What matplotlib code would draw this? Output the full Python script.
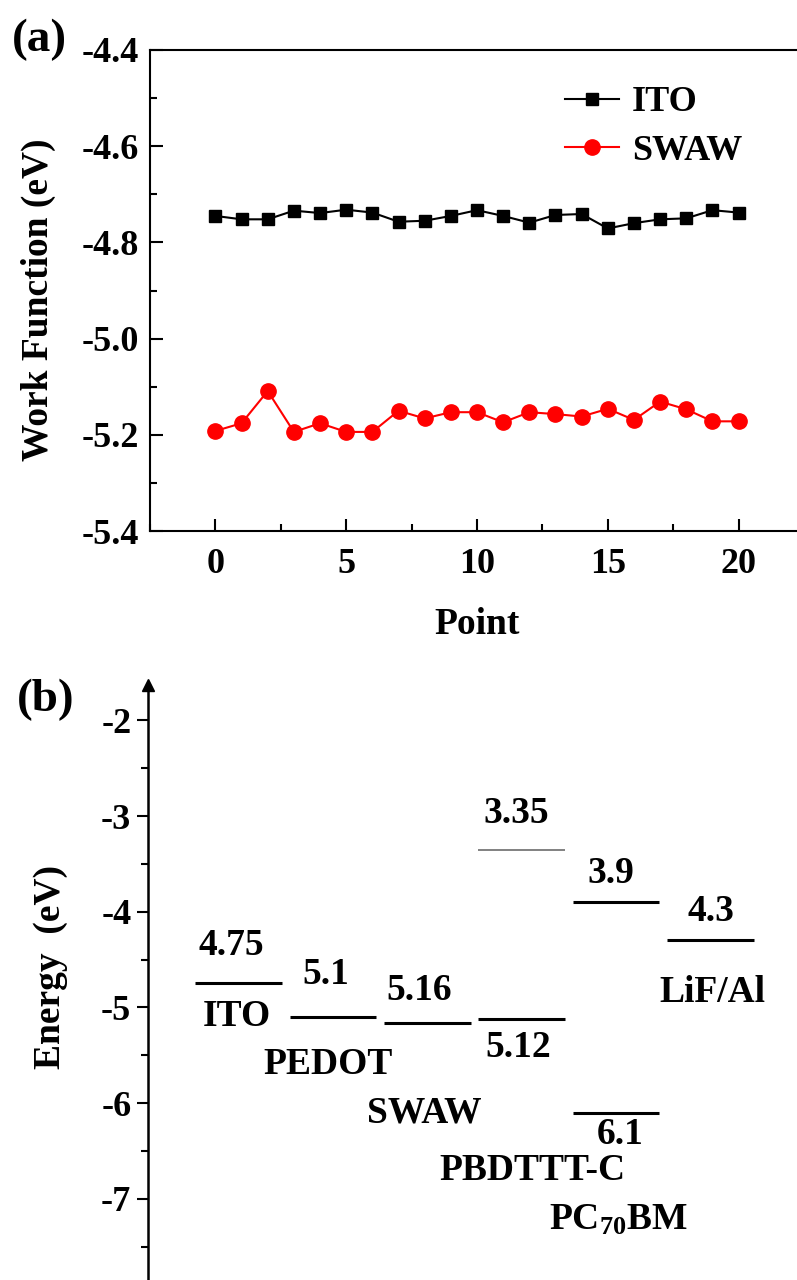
import matplotlib
matplotlib.use("Agg")
import matplotlib.pyplot as plt
from matplotlib.ticker import MultipleLocator, FormatStrFormatter

# ---- panel (a): work function vs. measurement point ----
POINTS = list(range(21))
ITO_WF = [-4.745, -4.752, -4.752, -4.734, -4.739, -4.732, -4.738, -4.757, -4.755, -4.745,
          -4.733, -4.745, -4.759, -4.743, -4.741, -4.771, -4.760, -4.752, -4.750, -4.733,
          -4.738]
SWAW_WF = [-5.192, -5.176, -5.109, -5.194, -5.176, -5.194, -5.194, -5.150, -5.166, -5.153,
           -5.153, -5.174, -5.153, -5.157, -5.162, -5.146, -5.169, -5.131, -5.147, -5.172,
           -5.172]

# ---- panel (b): energy level diagram ----
MATERIALS = ["ITO", "PEDOT", "SWAW", "PBDTTT-C", "PC$_{70}$BM", "LiF/Al"]
LEVEL_COL = [0, 1, 2, 3, 3, 4, 4, 5]
LEVEL_E = [4.75, 5.1, 5.16, 5.12, 3.35, 3.9, 6.1, 4.3]
LEVEL_TXT = ["4.75", "5.1", "5.16", "5.12", "3.35", "3.9", "6.1", "4.3"]

# label placement (offsets from bar centre, in data units)
VAL_OFF = [(-0.08, 0.40), (-0.08, 0.44), (-0.09, 0.34), (-0.04, -0.30),
           (-0.06, 0.38), (-0.05, 0.30), (0.04, -0.23), (0.0, 0.30)]
NAME_POS = [(0.44, -5.10), (1.41, -5.60), (2.43, -6.10), (3.57, -6.71),
            (4.49, -7.22), (5.48, -4.84)]

plt.rcParams["font.family"] = ["Liberation Serif", "DejaVu Serif"]
plt.rcParams["font.weight"] = "bold"
plt.rcParams["axes.labelweight"] = "bold"
plt.rcParams["axes.unicode_minus"] = False
plt.rcParams["mathtext.fontset"] = "custom"
plt.rcParams["mathtext.rm"] = "Liberation Serif:bold"
plt.rcParams["mathtext.bf"] = "Liberation Serif:bold"
plt.rcParams["mathtext.default"] = "bf"

W, H = 797, 1280
fig = plt.figure(figsize=(W / 100, H / 100), dpi=100)

TICK_FS = 26
LABEL_FS = 27

# panel a
ax1 = fig.add_axes([150 / W, 1 - 531 / H, 654 / W, 481 / H])
ax1.plot(POINTS, ITO_WF, "-s", color="black", ms=9, lw=1.5, label="ITO")
ax1.plot(POINTS, SWAW_WF, "-o", color="red", ms=11, lw=1.5, label="SWAW")
ax1.set_xlim(-2.5, 22.5)
ax1.set_ylim(-5.4, -4.4)
ax1.xaxis.set_major_locator(MultipleLocator(5))
ax1.xaxis.set_minor_locator(MultipleLocator(2.5))
ax1.yaxis.set_major_locator(MultipleLocator(0.2))
ax1.yaxis.set_minor_locator(MultipleLocator(0.1))
ax1.yaxis.set_major_formatter(FormatStrFormatter("%.1f"))
ax1.tick_params(which="major", direction="in", length=9, width=1.5, labelsize=TICK_FS)
ax1.tick_params(which="minor", direction="in", length=5, width=1.5)
ax1.tick_params(axis="y", pad=8)
ax1.tick_params(axis="x", pad=12)
for sp in ax1.spines.values():
    sp.set_linewidth(1.5)
ax1.set_xlabel("Point", fontsize=LABEL_FS, va="center")
ax1.xaxis.set_label_coords(0.5, (531 - 625) / 481)
ax1.set_ylabel("Work Function (eV)", fontsize=LABEL_FS, va="center")
ax1.yaxis.set_label_coords((38 - 150) / 654, 0.48)
ax1.legend(loc="upper left", bbox_to_anchor=(0.635, 0.925), frameon=False,
           fontsize=TICK_FS, handlelength=1.5, handletextpad=0.35,
           labelspacing=0.42, borderpad=0, borderaxespad=0)
fig.text(12 / W, 1 - 40 / H, "(a)", fontsize=34, va="center", ha="left")

# panel b
ax2 = fig.add_axes([148 / W, 0, (W - 148) / W, (H - 685) / H])
ax2.set_xlim(-0.5, (W - 195) / 94.4)
ax2.set_ylim(-7.85, -1.63)
for name in ("top", "right", "bottom"):
    ax2.spines[name].set_visible(False)
ax2.spines["left"].set_linewidth(1.8)
ax2.set_xticks([])
ax2.yaxis.set_major_locator(MultipleLocator(1))
ax2.yaxis.set_minor_locator(MultipleLocator(0.5))
ax2.yaxis.set_major_formatter(FormatStrFormatter("%d"))
ax2.tick_params(which="major", direction="out", length=8, width=1.5, labelsize=TICK_FS, pad=4)
ax2.tick_params(which="minor", direction="out", length=5, width=1.5)
ax2.plot([0], [1], marker="^", color="black", ms=9, transform=ax2.transAxes, clip_on=False)

for col, e, txt, (dx, dy) in zip(LEVEL_COL, LEVEL_E, LEVEL_TXT, VAL_OFF):
    lumo = e < 3.5
    ax2.hlines(-e, col, col + 0.92, color="#777777" if lumo else "black",
               lw=1.3 if lumo else 2.2)
    ax2.text(col + 0.46 + dx, -e + dy, txt, fontsize=LABEL_FS, ha="center", va="center")

for name, (x, y) in zip(MATERIALS, NAME_POS):
    ax2.text(x, y, name, fontsize=LABEL_FS, ha="center", va="center")

fig.text(50 / W, 1 - 967 / H, "Energy  (eV)", fontsize=LABEL_FS, rotation=90,
         ha="center", va="center")
fig.text(17 / W, 1 - 700 / H, "(b)", fontsize=34, va="center", ha="left")

fig.savefig("out.png", dpi=100)
